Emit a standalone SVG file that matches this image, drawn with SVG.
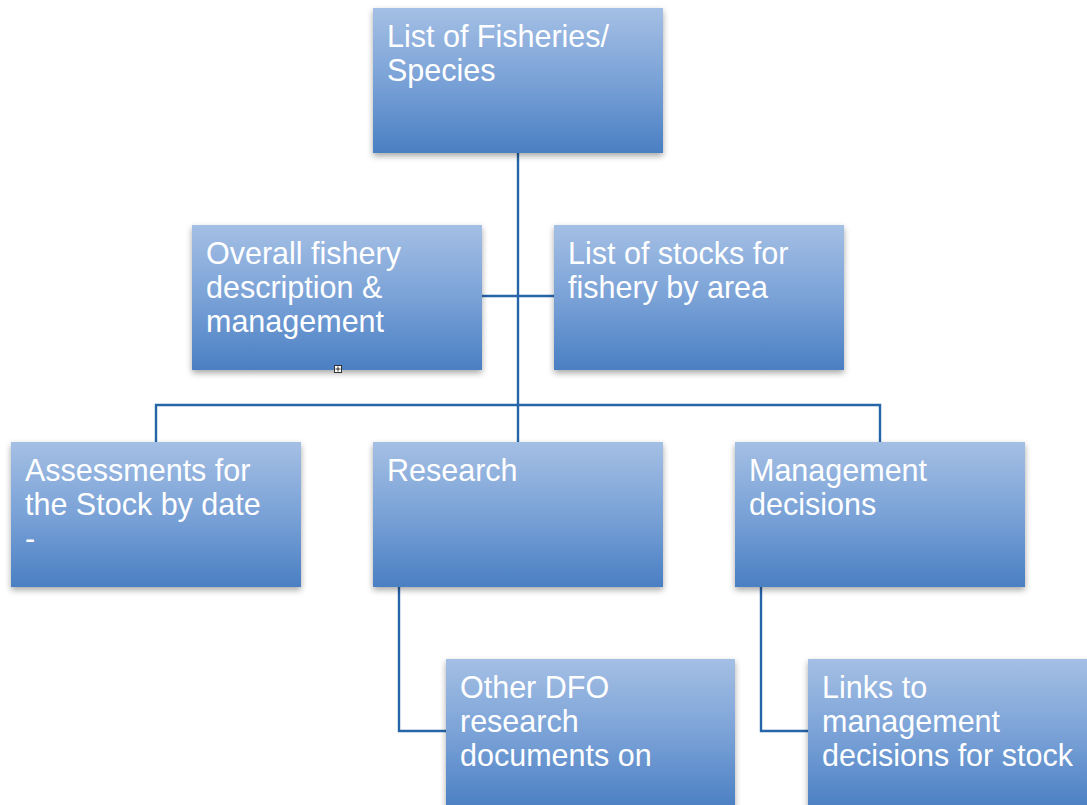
<svg xmlns="http://www.w3.org/2000/svg" width="1087" height="805" viewBox="0 0 1087 805">
<defs>
<linearGradient id="g" x1="0" y1="0" x2="0" y2="1">
<stop offset="0" stop-color="#a4bfe4"/>
<stop offset="0.5" stop-color="#7aa2d7"/>
<stop offset="1" stop-color="#4a7fc3"/>
</linearGradient>
<filter id="sh" x="-10%" y="-10%" width="120%" height="130%">
<feDropShadow dx="0" dy="3" stdDeviation="3" flood-color="#000" flood-opacity="0.35"/>
</filter>
</defs>
<style>
.box{fill:url(#g);filter:url(#sh);}
.t{font-family:"Liberation Sans",Arial,sans-serif;font-size:30.5px;fill:#fff;}
.c{fill:none;stroke:#2665a8;stroke-width:2.4;}
</style>
<rect width="1087" height="805" fill="#fff"/>
<g id="connectors">
<path class="c" d="M518,153 V442"/>
<path class="c" d="M482,296 H554"/>
<path class="c" d="M156,442 V405 H880 V442"/>
<path class="c" d="M399,587 V731 H446"/>
<path class="c" d="M761,587 V731 H808"/>
</g>
<g id="n-top">
<rect class="box" x="373" y="8" width="290" height="145"/>
<text class="t" x="387" y="47">List of Fisheries/</text>
<text class="t" x="387" y="81">Species</text>
</g>
<g id="n-overall">
<rect class="box" x="192" y="225" width="290" height="145"/>
<text class="t" x="206" y="264">Overall fishery</text>
<text class="t" x="206" y="298">description &amp;</text>
<text class="t" x="206" y="332">management</text>
</g>
<g id="n-stocks">
<rect class="box" x="554" y="225" width="290" height="145"/>
<text class="t" x="568" y="264">List of stocks for</text>
<text class="t" x="568" y="298">fishery by area</text>
</g>
<g id="n-assess">
<rect class="box" x="11" y="442" width="290" height="145"/>
<text class="t" x="25" y="481">Assessments for</text>
<text class="t" x="25" y="515">the Stock by date</text>
<text class="t" x="25" y="549">-</text>
</g>
<g id="n-research">
<rect class="box" x="373" y="442" width="290" height="145"/>
<text class="t" x="387" y="481">Research</text>
</g>
<g id="n-mgmt">
<rect class="box" x="735" y="442" width="290" height="145"/>
<text class="t" x="749" y="481">Management</text>
<text class="t" x="749" y="515">decisions</text>
</g>
<g id="n-other">
<rect class="box" x="446" y="659" width="289" height="150"/>
<text class="t" x="460" y="698">Other DFO</text>
<text class="t" x="460" y="732">research</text>
<text class="t" x="460" y="766">documents on</text>
</g>
<g id="n-links">
<rect class="box" x="808" y="659" width="290" height="150"/>
<text class="t" x="822" y="698">Links to</text>
<text class="t" x="822" y="732">management</text>
<text class="t" x="822" y="766">decisions for stock</text>
</g>
<g id="handle">
<rect x="334.5" y="365.5" width="7" height="7" fill="#fff" stroke="#333" stroke-width="1"/>
<path d="M338,366.5 V371.5 M335.5,369 H340.5" stroke="#333" stroke-width="1"/>
</g>
</svg>
